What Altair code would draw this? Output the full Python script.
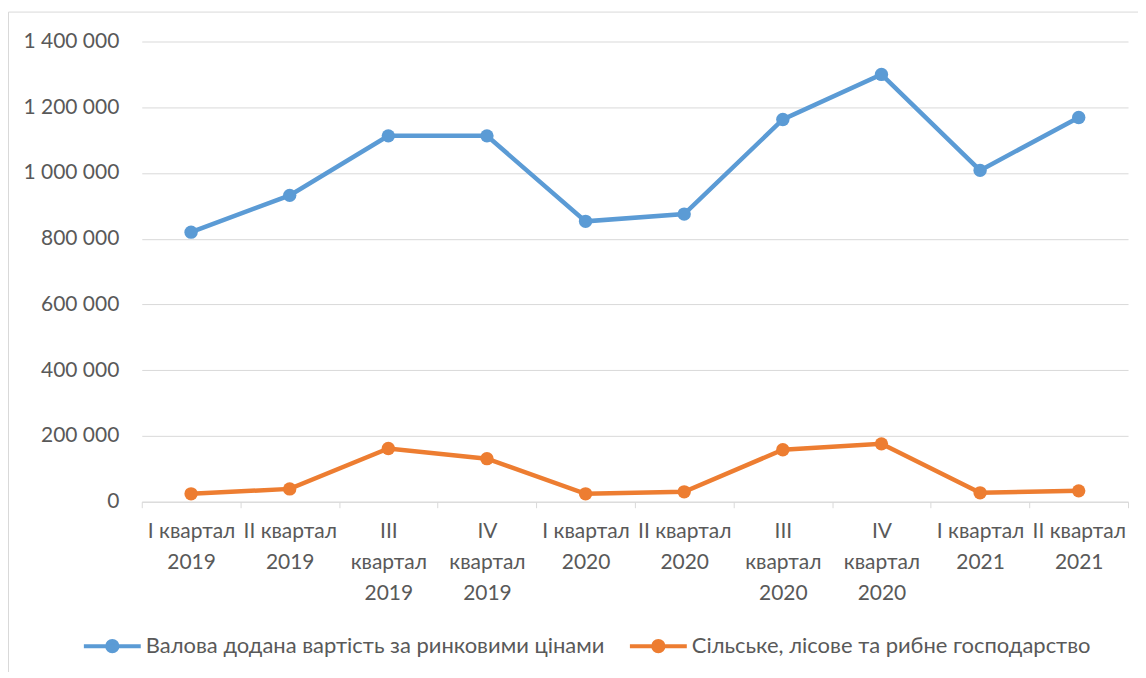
import altair as alt
import pandas as pd

quarters = ["І квартал|2019", "ІІ квартал|2019", "ІІІ|квартал|2019", "IV|квартал|2019",
            "І квартал|2020", "ІІ квартал|2020", "ІІІ|квартал|2020", "IV|квартал|2020",
            "І квартал|2021", "ІІ квартал|2021"]
gva = [820000, 932000, 1113000, 1113000, 853000, 875000, 1163000, 1300000, 1008000, 1169000]
agri = [24000, 39000, 162000, 131000, 24000, 30000, 158000, 176000, 27000, 33000]
series_names = ["Валова додана вартість за ринковими цінами",
                "Сільське, лісове та рибне господарство"]
colors = ["#5B9BD5", "#ED7D31"]

rows = []
for q, a, b in zip(quarters, gva, agri):
    rows.append({"q": q, "s": series_names[0], "v": a})
    rows.append({"q": q, "s": series_names[1], "v": b})
df = pd.DataFrame(rows)

FONT = "Lato"
TXT = "#595959"
FS = 21

x = alt.X("q:N", sort=quarters, title=None,
          scale=alt.Scale(paddingInner=0, paddingOuter=0),
          axis=alt.Axis(labelExpr="datum.value ? split(datum.value, '|') : ''", labelAngle=0,
                        labelFontSize=FS, labelColor=TXT, labelFont=FONT, labelLimit=0,
                        labelLineHeight=31, labelPadding=13, labelBaseline="top",
                        tickBand="extent", ticks=True, tickSize=6, tickColor="#D9D9D9",
                        domainColor="#D9D9D9", domainWidth=1, grid=False))
y = alt.Y("v:Q", title=None,
          scale=alt.Scale(domain=[0, 1400000], nice=False),
          axis=alt.Axis(values=list(range(0, 1400001, 200000)),
                        labelExpr="replace(format(datum.value, ',d'), /,/g, ' ')",
                        labelFontSize=FS, labelColor=TXT, labelFont=FONT, labelPadding=23,
                        ticks=False, domain=False, gridColor="#D9D9D9", gridWidth=1))
color = alt.Color("s:N", sort=series_names, title=None,
                  scale=alt.Scale(domain=series_names, range=colors),
                  legend=alt.Legend(orient="none", direction="horizontal",
                                    legendX=-60, legendY=575, labelLimit=0,
                                    labelFontSize=22, labelColor=TXT, labelFont=FONT,
                                    symbolType="M-1,0L1,0M0.18,0A0.18,0.18,0,1,1,-0.18,0A0.18,0.18,0,1,1,0.18,0Z",
                                    symbolSize=3249, symbolStrokeWidth=4,
                                    labelOffset=3, columnPadding=17))

border = alt.Chart(pd.DataFrame({"a": [0]})).mark_rect(
    fill=None, stroke="#D9D9D9", strokeWidth=1).encode(
    x=alt.value(-133.5), x2=alt.value(1010), y=alt.value(-29.5), y2=alt.value(700))

lines = alt.Chart(df).mark_line(strokeWidth=4.5).encode(x=x, y=y, color=color)
points = alt.Chart(df).mark_point(filled=True, size=180, opacity=1).encode(x=x, y=y, color=color)

chart = alt.layer(border, lines, points).properties(
    width=988, height=461,
    autosize=alt.AutoSizeParams(type="none"),
    padding={"left": 134, "top": 33, "right": 10, "bottom": 170},
    background="white",
).configure_view(stroke=None)

chart.save("out.html", embed_options={"renderer": "svg", "actions": False})
